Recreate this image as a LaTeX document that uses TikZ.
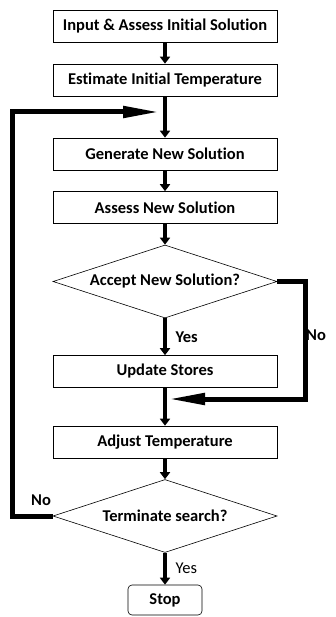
\documentclass[tikz,border=0pt]{standalone}
\usepackage{fontspec}
\setmainfont{Carlito}[Ligatures=NoCommon]
\usetikzlibrary{arrows.meta, positioning, shapes.geometric}

\begin{document}
\begin{tikzpicture}[x=1pt,y=-1pt,on grid,>={Triangle[length=7pt,width=10pt]},
		font=\fontsize{16.5}{19}\selectfont\bfseries,
		block/.style={draw, line width=0.6pt, rectangle, minimum width=224pt, minimum height=32pt, inner sep=0pt},
		decision/.style={draw, line width=0.6pt, diamond, aspect=3.07, minimum width=224pt, minimum height=73pt, inner sep=0pt},
		flow/.style={line width=4.5pt},
		loopback/.style={line width=5pt, -{Triangle[length=37pt,width=11pt]}}]
		
		\useasboundingbox (0,0) rectangle (336,617);
		
		\node (input) [block] at (165,26.5) {Input \& Assess Initial Solution};
		\node (estim) [block, below=53.5pt of input] {Estimate Initial Temperature};
		\node (gener) [block, below=74pt of estim] {Generate New Solution};
		\node (assess) [block, below=53.5pt of gener] {Assess New Solution};
		\node (accept) [decision, below=74pt of assess] {Accept New Solution?};
		\node (update) [block, below=90pt of accept] {Update Stores};
		\node (adjust) [block, below=70.5pt of update] {Adjust Temperature};
		\node (term) [decision, below=74pt of adjust] {Terminate search?};
		\node (stop) [draw, line width=0.6pt, rounded corners=4pt, minimum width=74pt, minimum height=30pt, below=84pt of term] {Stop};
		
		\coordinate (loopin) at (160,112);
		\coordinate (noin) at (168,399);
		
		\path [->, flow]
		(input) edge (estim)
		(estim) edge (gener)
		(gener) edge (assess)
		(assess) edge (accept)
		(accept) edge node [anchor=west, xshift=5pt] {Yes} (update)
		(update) edge (adjust)
		(adjust) edge (term)
		(term) edge node [anchor=west, xshift=5pt, font=\fontsize{16.5}{19}\selectfont] {Yes} (stop);
		
		\draw [loopback] (accept.east) -- ++(28,0) |- (noin);
		\draw [loopback] (term.west) -- ++(-40,0) |- (loopin);
		
		\node (nor) at (316,335) {No};
		\node (nol) at (41,500) {No};
	\end{tikzpicture}
\end{document}
